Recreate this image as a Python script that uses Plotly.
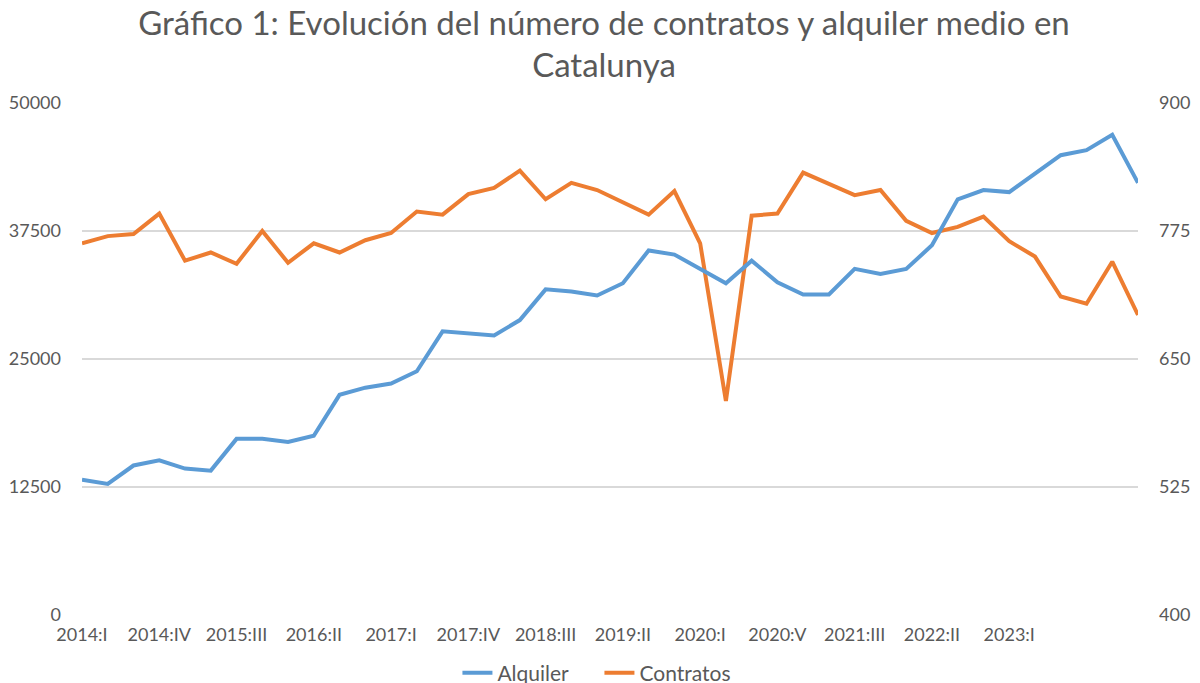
import plotly.graph_objects as go

trimestres = ["2014:I", "2014:II", "2014:III", "2014:IV",
              "2015:I", "2015:II", "2015:III", "2015:IV",
              "2016:I", "2016:II", "2016:III", "2016:IV",
              "2017:I", "2017:II", "2017:III", "2017:IV",
              "2018:I", "2018:II", "2018:III", "2018:IV",
              "2019:I", "2019:II", "2019:III", "2019:IV",
              "2020:I", "2020:II", "2020:III", "2020:V",
              "2021:I", "2021:II", "2021:III", "2021:IV",
              "2022:I", "2022:II", "2022:III", "2022:IV",
              "2023:I", "2023:II", "2023:III", "2023:IV",
              "2024:I", "2024:II"]

# alquiler medio (eje derecho)
alquiler = [532, 528, 546, 551, 543, 541, 572, 572, 569, 575,
            615, 622, 626, 638, 677, 675, 673, 688, 718, 716,
            712, 724, 756, 752, 738, 724, 746, 725, 713, 713,
            738, 733, 738, 761, 806, 815, 813, 831, 849, 854,
            869, 822]

# numero de contratos (eje izquierdo)
contratos = [36300, 37000, 37200, 39200, 34600, 35400, 34300, 37500, 34400, 36300,
             35400, 36600, 37300, 39400, 39100, 41100, 41700, 43400, 40600, 42200,
             41500, 40300, 39100, 41400, 36300, 20900, 39000, 39200, 43200, 42100,
             41000, 41500, 38500, 37300, 37900, 38900, 36500, 35000, 31100, 30400,
             34500, 29300]

etiquetas_x = trimestres[0:37:3]
ticks_izq = [0, 12500, 25000, 37500, 50000]
ticks_der = [400, 525, 650, 775, 900]

gris = "#595959"
fuente = "Lato"

# la pagina tiene 8px de margen en body; el alto extra deja sitio a la leyenda
W, H = 1192, 700
fig = go.Figure()
fig.add_trace(go.Scatter(x=trimestres, y=alquiler, name="Alquiler", yaxis="y2",
                         mode="lines", line=dict(color="#5B9BD5", width=4)))
fig.add_trace(go.Scatter(x=trimestres, y=contratos, name="Contratos",
                         mode="lines", line=dict(color="#ED7D31", width=4)))

fig.update_layout(
    width=W, height=H,
    margin=dict(l=74, r=62, t=95, b=93),
    paper_bgcolor="white", plot_bgcolor="white",
    font=dict(family=fuente, color=gris, size=18),
    title=dict(text="Gráfico 1: Evolución del número de contratos y alquiler medio en<br>Catalunya",
               x=0.5, xanchor="center", y=1 - 26.5 / H, yanchor="middle",
               font=dict(size=33, color=gris, family=fuente)),
    xaxis=dict(type="category", range=[0, len(trimestres) - 1],
               tickmode="array", tickvals=etiquetas_x, ticktext=etiquetas_x,
               showgrid=False, showline=False, zeroline=False, ticks="",
               tickangle=0, tickfont=dict(size=18), ticklabelstandoff=7,
               automargin=False),
    yaxis=dict(range=[0, 50000], tickmode="array", tickvals=ticks_izq,
               ticktext=[str(v) for v in ticks_izq],
               showgrid=True, gridcolor="#D9D9D9", gridwidth=2,
               zeroline=False, ticks="", ticklabelstandoff=20, automargin=False),
    yaxis2=dict(range=[400, 900], tickmode="array", tickvals=ticks_der,
                overlaying="y", side="right",
                showgrid=False, zeroline=False, ticks="", ticklabelstandoff=20,
                automargin=False),
    legend=dict(orientation="h", x=0.49, xanchor="center", y=-58 / 512, yanchor="middle",
                font=dict(size=21, color=gris), itemwidth=30, entrywidth=97),
    showlegend=True,
)

fig.write_html("out.html")
